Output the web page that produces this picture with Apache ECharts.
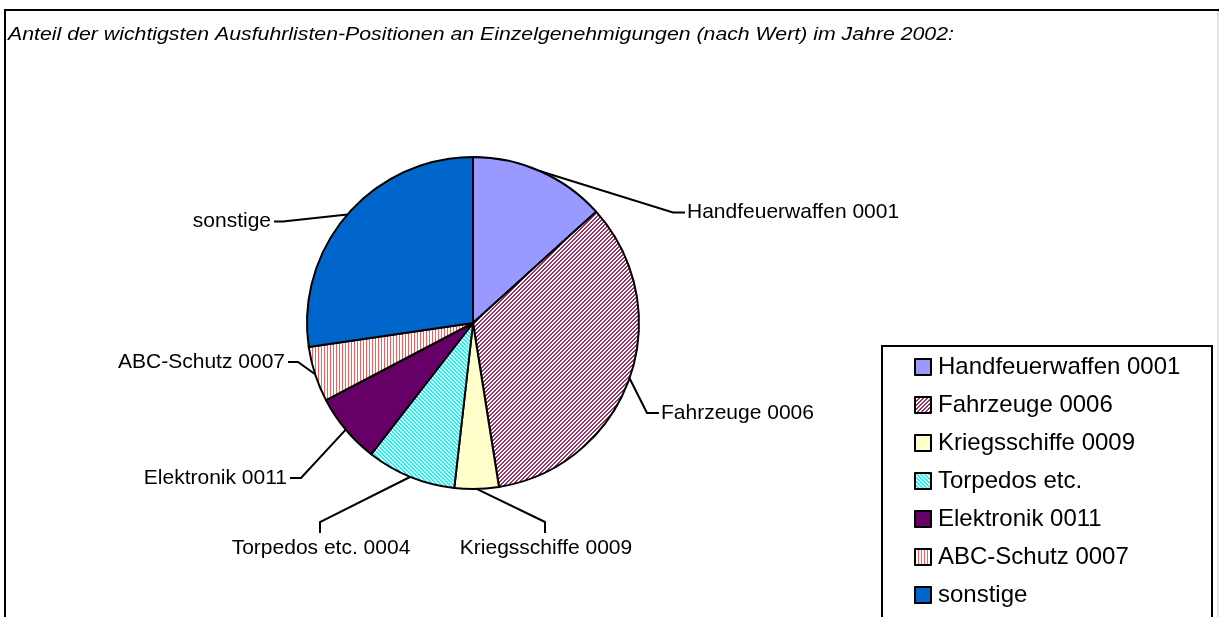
<!DOCTYPE html>
<html>
<head>
<meta charset="utf-8">
<script src="https://cdn.jsdelivr.net/npm/echarts@6/dist/echarts.min.js"></script>
<style>
  html, body { margin: 0; padding: 0; background: #fff; }
  #chart { width: 1219px; height: 617px; }
</style>
</head>
<body>
<div id="chart"></div>
<script>
// ---- data ----
const titleText = 'Anteil der wichtigsten Ausfuhrlisten-Positionen an Einzelgenehmigungen (nach Wert) im Jahre 2002:';
const categories = ['Handfeuerwaffen 0001', 'Fahrzeuge 0006', 'Kriegsschiffe 0009', 'Torpedos etc.', 'Elektronik 0011', 'ABC-Schutz 0007', 'sonstige'];
const sliceLabels = ['Handfeuerwaffen 0001', 'Fahrzeuge 0006', 'Kriegsschiffe 0009', 'Torpedos etc. 0004', 'Elektronik 0011', 'ABC-Schutz 0007', 'sonstige'];
const shares = [13.3, 34.2, 4.3, 8.7, 6.8, 5.4, 27.3];

// ---- styling helpers ----
function stripePattern(color, kind, period, on) {
  const c = document.createElement('canvas');
  const n = period * 4;
  c.width = n; c.height = n;
  const g = c.getContext('2d');
  g.fillStyle = '#ffffff';
  g.fillRect(0, 0, n, n);
  g.fillStyle = color;
  for (let y = 0; y < n; y++) {
    for (let x = 0; x < n; x++) {
      let v;
      if (kind === '/') v = (x + y) % period;
      else if (kind === '\\') v = ((x - y) % period + period) % period;
      else v = x % period;
      if (v < on) g.fillRect(x, y, 1, 1);
    }
  }
  return { image: c, repeat: 'repeat' };
}

const fills = [
  '#9999FF',
  stripePattern('#993366', '/', 4, 2),
  '#FFFFCC',
  stripePattern('#00FFFF', '\\', 4, 2),
  '#660066',
  stripePattern('#FF5A5A', '|', 3, 1),
  '#0066CC'
];

// label placement (annotation layout, not data)
const labelLayoutCfg = [
  { x: 687, y: 212.5, align: 'left',   elbow: [673, 212.5], end: [685, 212.5] },
  { x: 661, y: 413,   align: 'left',   elbow: [647, 413],   end: [659, 413] },
  { x: 546, y: 548,   align: 'center', elbow: [545, 522],   end: [545, 533] },
  { x: 321, y: 548,   align: 'center', elbow: [320, 522],   end: [320, 533] },
  { x: 287, y: 478,   align: 'right',  elbow: [301, 478],   end: [290, 478] },
  { x: 285, y: 362.5, align: 'right',  elbow: [298, 362],   end: [288, 362] },
  { x: 271, y: 221.5, align: 'right',  elbow: [283, 221.5], end: [274, 221.5] }
];

const CX = 473, CY = 323, R = 166;
const total = shares.reduce((a, b) => a + b, 0);
function edgePoint(i) {
  let acc = 0;
  for (let k = 0; k < i; k++) acc += shares[k];
  const mid = (acc + shares[i] / 2) / total * 2 * Math.PI;
  return [CX + R * Math.sin(mid), CY - R * Math.cos(mid)];
}

const chart = echarts.init(document.getElementById('chart'), null, { renderer: 'canvas' });
chart.setOption({
  animation: false,
  backgroundColor: '#ffffff',
  graphic: [
    { type: 'line', shape: { x1: 4, y1: 10, x2: 1219, y2: 10 }, style: { stroke: '#000', lineWidth: 2 } },
    { type: 'line', shape: { x1: 5, y1: 9, x2: 5, y2: 617 }, style: { stroke: '#000', lineWidth: 2 } },
    { type: 'line', shape: { x1: 1218, y1: 11, x2: 1218, y2: 617 }, style: { stroke: '#c8c8c8', lineWidth: 1 } },
    { type: 'rect', shape: { x: 882, y: 346, width: 330, height: 400 }, style: { fill: 'none', stroke: '#000', lineWidth: 2 } },
    {
      type: 'text', x: 8, y: 34.5, scaleX: 1.12, scaleY: 1,
      style: {
        text: titleText, x: 0, y: 0,
        font: 'italic 19px "Liberation Sans", Arial, sans-serif',
        fill: '#000', textAlign: 'left', textVerticalAlign: 'middle'
      }
    }
  ],
  legend: {
    orient: 'vertical',
    left: 914,
    top: 355,
    padding: 0,
    itemWidth: 16,
    itemHeight: 16,
    itemGap: 14,
    icon: 'rect',
    itemStyle: { borderColor: '#000', borderWidth: 2 },
    textStyle: { fontFamily: 'Liberation Sans', fontSize: 24, lineHeight: 24, color: '#000', padding: [0, 0, 0, 2] },
    data: categories
  },
  series: [{
    type: 'pie',
    center: [CX, CY],
    radius: R,
    startAngle: 90,
    clockwise: true,
    avoidLabelOverlap: false,
    silent: true,
    itemStyle: { borderColor: '#000', borderWidth: 2 },
    label: {
      show: true,
      position: 'outside',
      fontFamily: 'Liberation Sans',
      fontSize: 21,
      color: '#000',
      formatter: p => sliceLabels[p.dataIndex]
    },
    labelLine: { show: true, length: 20, length2: 10, lineStyle: { color: '#000', width: 2 } },
    labelLayout: function (p) {
      const L = labelLayoutCfg[p.dataIndex];
      return {
        x: L.x, y: L.y, align: L.align, verticalAlign: 'middle',
        labelLinePoints: [edgePoint(p.dataIndex), L.elbow, L.end]
      };
    },
    data: categories.map((name, i) => ({ name: name, value: shares[i], itemStyle: { color: fills[i] } }))
  }]
});
</script>
</body>
</html>
